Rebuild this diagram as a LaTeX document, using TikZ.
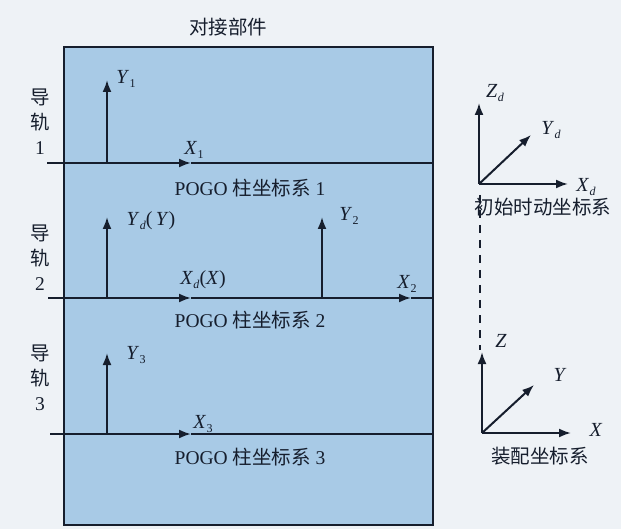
\documentclass[tikz,border=0pt]{standalone}
\usepackage{fontspec}
\setmainfont{Liberation Serif}
\newfontfamily\cjk{Noto Sans CJK SC}
\usetikzlibrary{arrows.meta}
\definecolor{bgc}{RGB}{238,242,246}
\definecolor{boxc}{RGB}{168,202,230}
\definecolor{linec}{RGB}{22,30,45}
\newcommand\sublab[2]{\textit{#1}\kern0.3pt\raisebox{-0.35ex}{\fontsize{12}{12}\selectfont #2}}
\begin{document}
\begin{tikzpicture}[x=1pt,y=-1pt,
  ax/.style={draw=linec,line width=2pt,-{Latex[length=12pt,width=9pt]}},
  rail/.style={draw=linec,line width=2pt},
  dashline/.style={draw=linec,line width=2pt,dash pattern=on 8pt off 7pt},
  txt/.style={inner sep=0pt,font=\fontsize{19.5}{22}\selectfont,text=linec},
  cjktxt/.style={inner sep=0pt,font=\fontsize{19.5}{22}\selectfont\cjk,text=linec},
  axlab/.style={inner sep=0pt,font=\fontsize{20}{22}\selectfont,text=linec},
  raillab/.style={inner sep=0pt,align=center,font=\fontsize{19.5}{25}\selectfont,text=linec}]
\useasboundingbox (0,0) rectangle (621,529);
\fill[bgc] (0,0) rectangle (621,529);
% box
\node[draw=linec,line width=2pt,fill=boxc,minimum width=369pt,minimum height=478pt,inner sep=0pt] (box) at (248.5,286) {};
\node[cjktxt] (title) at (228,27) {对接部件};
% rail 1
\coordinate (r1s) at (47,163);
\coordinate (r1a) at (191,163);
\coordinate (r1e) at (434,163);
\coordinate (o1) at (107,163);
\coordinate (y1t) at (107,80);
\draw[ax] (r1s) -- (r1a);
\draw[rail] (r1a) -- (r1e);
\draw[ax] (o1) -- (y1t);
\node[raillab] (g1) at (40,122) {{\cjk 导}\\{\cjk 轨}\\1};
\node[axlab] (Y1) at (126,79) {\sublab{Y}{1}};
\node[axlab] (X1) at (194,150) {\sublab{X}{1}};
\node[txt] (p1) at (250,188) {POGO {\cjk 柱坐标系} 1};
% rail 2
\coordinate (r2s) at (48,298);
\coordinate (r2a) at (191,298);
\coordinate (r2b) at (411,298);
\coordinate (r2e) at (434,298);
\coordinate (o2) at (107,298);
\coordinate (yd) at (107,217);
\coordinate (o22) at (322,298);
\coordinate (y2t) at (322,217);
\draw[ax] (r2s) -- (r2a);
\draw[ax] (r2a) -- (r2b);
\draw[rail] (r2b) -- (r2e);
\draw[ax] (o2) -- (yd);
\draw[ax] (o22) -- (y2t);
\node[raillab] (g2) at (40,258) {{\cjk 导}\\{\cjk 轨}\\2};
\node[axlab] (Yd) at (151,221) {\sublab{Y}{\textit{d}}(\,\textit{Y})};
\node[axlab] (Y2) at (349,216) {\sublab{Y}{2}};
\node[axlab] (Xd) at (203,280) {\sublab{X}{\textit{d}}(\textit{X})};
\node[axlab] (X2) at (407,284) {\sublab{X}{2}};
\node[txt] (p2) at (250,320) {POGO {\cjk 柱坐标系} 2};
% rail 3
\coordinate (r3s) at (50,434);
\coordinate (r3a) at (191,434);
\coordinate (r3e) at (434,434);
\coordinate (o3) at (107,434);
\coordinate (y3t) at (107,353);
\draw[ax] (r3s) -- (r3a);
\draw[rail] (r3a) -- (r3e);
\draw[ax] (o3) -- (y3t);
\node[raillab] (g3) at (40,378) {{\cjk 导}\\{\cjk 轨}\\3};
\node[axlab] (Y3) at (136,355) {\sublab{Y}{3}};
\node[axlab] (X3) at (203,424) {\sublab{X}{3}};
\node[txt] (p3) at (250,457) {POGO {\cjk 柱坐标系} 3};
% initial moving frame
\coordinate (od) at (479,184);
\coordinate (zdt) at (479,103);
\coordinate (xdt) at (568,184);
\coordinate (ydt) at (531,135);
\draw[ax] (od) -- (zdt);
\draw[ax] (od) -- (xdt);
\draw[ax] (od) -- (ydt);
\node[axlab] (Zdl) at (495,93) {\sublab{Z}{\textit{d}}};
\node[axlab] (Ydl) at (551,130) {\sublab{Y}{\textit{d}}};
\node[axlab] (Xdl) at (586,187) {\sublab{X}{\textit{d}}};
\node[cjktxt] (init) at (543,207) {初始时动坐标系};
% assembly frame
\coordinate (oa) at (482,433);
\coordinate (zat) at (482,352);
\coordinate (xat) at (571,433);
\coordinate (yat) at (534,385);
\coordinate (ds) at (480,195);
\coordinate (de) at (480,350);
\draw[dashline] (ds) -- (de);
\draw[ax] (oa) -- (zat);
\draw[ax] (oa) -- (xat);
\draw[ax] (oa) -- (yat);
\node[axlab] (Zl) at (501,341) {\textit{Z}};
\node[axlab] (Yl) at (560,375) {\textit{Y}};
\node[axlab] (Xl) at (596,430) {\textit{X}};
\node[cjktxt] (asm) at (540,456) {装配坐标系};
\end{tikzpicture}
\end{document}
